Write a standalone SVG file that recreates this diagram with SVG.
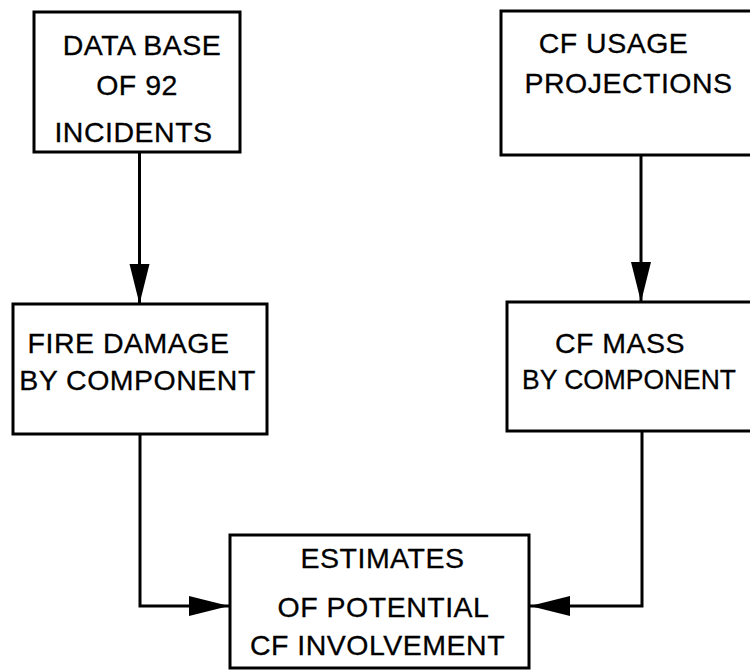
<svg xmlns="http://www.w3.org/2000/svg" width="750" height="672" viewBox="0 0 750 672">
<style>
.box{fill:#fff;stroke:#000;stroke-width:3}
.lbl{font-family:"Liberation Sans",Arial,sans-serif;font-size:28.5px;letter-spacing:0.5px;fill:#000;stroke:#000;stroke-width:0.3;text-anchor:middle}
.con{fill:none;stroke:#000;stroke-width:3}
</style>
<defs>
<marker id="ah" markerUnits="userSpaceOnUse" markerWidth="40" markerHeight="22" refX="40" refY="11" orient="auto">
<path d="M0,1 L40,11 L0,21 Z" fill="#000"/>
</marker>
</defs>
<rect width="750" height="672" fill="#fff"/>
<g id="connectors">
<path class="con" d="M139.5,152 V304" marker-end="url(#ah)"/>
<path class="con" d="M641,155 V302" marker-end="url(#ah)"/>
<path class="con" d="M140,434 V606 H229" marker-end="url(#ah)"/>
<path class="con" d="M642,431 V606 H530" marker-end="url(#ah)"/>
</g>
<g id="data-base">
<rect class="box" x="34" y="12" width="206" height="140"/>
<text class="lbl" x="142" y="55">DATA BASE</text>
<text class="lbl" x="137" y="95">OF 92</text>
<text class="lbl" x="133.5" y="142">INCIDENTS</text>
</g>
<g id="cf-usage">
<rect class="box" x="501" y="11" width="252" height="144"/>
<text class="lbl" x="613.5" y="53">CF USAGE</text>
<text class="lbl" x="628.5" y="93">PROJECTIONS</text>
</g>
<g id="fire-damage">
<rect class="box" x="13" y="304" width="254" height="130"/>
<text class="lbl" x="128.5" y="353">FIRE DAMAGE</text>
<text class="lbl" x="137.5" y="390">BY COMPONENT</text>
</g>
<g id="cf-mass">
<rect class="box" x="507" y="302" width="246" height="129"/>
<text class="lbl" x="620" y="353">CF MASS</text>
<text class="lbl" x="522" y="389" style="text-anchor:start;letter-spacing:0" textLength="214" lengthAdjust="spacingAndGlyphs">BY COMPONENT</text>
</g>
<g id="estimates">
<rect class="box" x="230" y="535" width="299" height="133"/>
<text class="lbl" x="382.5" y="568">ESTIMATES</text>
<text class="lbl" x="383.5" y="617">OF POTENTIAL</text>
<text class="lbl" x="377.5" y="655">CF INVOLVEMENT</text>
</g>
</svg>
